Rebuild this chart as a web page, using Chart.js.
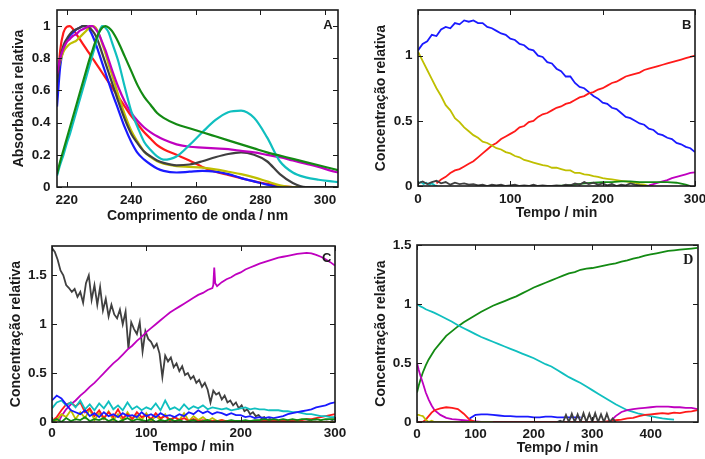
<!DOCTYPE html>
<html>
<head>
<meta charset="utf-8">
<script src="https://cdn.jsdelivr.net/npm/chart.js@4.4.0/dist/chart.umd.min.js"></script>
<style>
  body { margin: 0; background: #fff; }
  #wrap { position: relative; width: 705px; height: 459px; overflow: hidden; background: #fff; }
  canvas { position: absolute; }
</style>
</head>
<body>
<div id="wrap">
  <canvas id="chartA" width="350" height="225" style="left:0;top:0"></canvas>
  <canvas id="chartB" width="355" height="225" style="left:350px;top:0"></canvas>
  <canvas id="chartC" width="350" height="234" style="left:0;top:225px"></canvas>
  <canvas id="chartD" width="355" height="234" style="left:350px;top:225px"></canvas>
</div>
<script>
// ---- Panel A: normalised spectra ----
const aWave = [217,218,219,220,221,222,223,224,225,226,227,228,229,230,231,232,233,234,
  236,238,240,242,244,246,248,250,254,258,262,266,270,274,278,282,286,290,294,298,302,304];
const aRed = [0.6,0.85,0.96,0.995,1.0,0.98,0.95,0.92,0.89,0.86,0.83,0.8,0.77,0.74,0.71,0.68,0.65,0.62,
  0.56,0.5,0.44,0.39,0.34,0.3,0.26,0.235,0.2,0.165,0.125,0.095,0.075,0.055,0.035,0.02,0.005,0,0,0,0,0];
const aBlue = [0.5,0.75,0.86,0.91,0.94,0.96,0.98,0.99,1.0,1.0,0.98,0.94,0.89,0.83,0.77,0.71,0.65,0.59,
  0.48,0.37,0.28,0.21,0.17,0.14,0.115,0.1,0.09,0.095,0.1,0.095,0.08,0.055,0.035,0.015,0,0,0,0,0,0];
const aBlack = [0.65,0.8,0.88,0.92,0.95,0.97,0.98,0.99,1.0,1.0,0.99,0.97,0.94,0.89,0.83,0.77,0.71,0.65,
  0.53,0.42,0.33,0.27,0.22,0.19,0.165,0.15,0.135,0.14,0.16,0.185,0.205,0.215,0.2,0.16,0.08,0.025,0,0,0,0];
const aYellow = [0.7,0.78,0.84,0.87,0.89,0.9,0.91,0.93,0.95,0.97,0.99,1.0,0.99,0.95,0.89,0.83,0.76,0.7,
  0.57,0.45,0.35,0.28,0.22,0.185,0.16,0.145,0.13,0.125,0.12,0.11,0.095,0.08,0.06,0.035,0.01,0,0,0,0,0];
const aMagenta = [0.7,0.8,0.86,0.9,0.92,0.94,0.95,0.97,0.98,0.99,1.0,1.0,0.98,0.95,0.9,0.85,0.79,0.73,
  0.62,0.53,0.46,0.41,0.37,0.34,0.315,0.295,0.265,0.25,0.245,0.24,0.235,0.225,0.215,0.2,0.185,0.165,0.145,0.125,0.1,0.09];
const aGreen = [0.08,0.16,0.23,0.3,0.37,0.44,0.51,0.58,0.65,0.72,0.79,0.85,0.91,0.96,0.99,1.0,0.99,0.97,
  0.9,0.81,0.72,0.63,0.56,0.51,0.46,0.43,0.39,0.365,0.34,0.315,0.29,0.265,0.24,0.215,0.195,0.175,0.155,0.135,0.115,0.105];
const aCyan = [0.07,0.14,0.2,0.27,0.33,0.4,0.47,0.54,0.61,0.68,0.75,0.82,0.89,0.96,1.0,0.99,0.96,0.9,
  0.78,0.62,0.47,0.37,0.28,0.23,0.19,0.17,0.19,0.26,0.34,0.415,0.465,0.475,0.43,0.31,0.16,0.09,0.06,0.045,0.035,0.03];
const aXTicks = [220, 240, 260, 280, 300];
const aYTicks = [0, 0.2, 0.4, 0.6, 0.8, 1];

// ---- Panel B ----
const bTime = [0,5,10,15,20,25,30,35,40,45,50,55,60,65,70,75,80,85,90,95,100,105,110,115,120,125,130,135,140,145,
  150,155,160,165,170,175,180,185,190,195,200,205,210,215,220,225,230,235,240,245,250,255,260,265,270,275,280,285,290,295,300];
const bBlue = [1.04,1.09,1.11,1.16,1.15,1.2,1.22,1.21,1.25,1.24,1.27,1.26,1.27,1.25,1.25,1.22,1.21,1.19,1.17,1.16,
  1.13,1.12,1.09,1.08,1.05,1.04,1.0,0.99,0.95,0.94,0.9,0.88,0.84,0.84,0.79,0.76,0.75,0.72,0.69,0.67,
  0.64,0.63,0.6,0.59,0.56,0.53,0.52,0.5,0.48,0.47,0.44,0.43,0.4,0.39,0.37,0.36,0.33,0.32,0.3,0.29,0.26];
const bRed = [0.02,0.05,0.07,0.1,0.12,0.13,0.15,0.17,0.19,0.22,0.25,0.28,0.31,0.33,0.36,0.38,
  0.4,0.42,0.45,0.46,0.49,0.5,0.53,0.55,0.56,0.58,0.6,0.61,0.63,0.64,0.66,0.68,0.69,0.71,0.72,0.74,
  0.75,0.77,0.79,0.8,0.82,0.84,0.85,0.86,0.87,0.89,0.9,0.91,0.92,0.93,0.94,0.95,0.96,0.97,0.98,0.99,1.0];
const bYellow = [1.03,0.96,0.89,0.82,0.75,0.69,0.62,0.58,0.52,0.49,0.45,0.42,0.39,0.37,0.34,0.33,0.31,0.29,0.28,0.26,
  0.25,0.23,0.22,0.2,0.19,0.18,0.17,0.16,0.155,0.14,0.14,0.13,0.12,0.12,0.1,0.1,0.09,0.085,0.075,0.07,
  0.06,0.055,0.05,0.045,0.04,0.035,0.03,0.025,0.015,0.01,0,0];
const bMagenta = [0.005,0.015,0.025,0.035,0.045,0.06,0.07,0.08,0.09,0.1,0.105];
const bGreenT = [150,160,170,180,190,200,210,220,230,240,250,260,270,280,290,295];
const bGreen = [0,0.005,0.01,0.02,0.025,0.03,0.03,0.035,0.035,0.03,0.03,0.03,0.03,0.025,0.01,0];
const bBlack = [0.02,0.035,0.015,0.03,0.04,0.02,0.03,0.01,0.025,0.015,0.02,0.01,0.015,0.005,0.01,0,0.01,0.005,0.01,0,
  0.005,0.01,0,0.005,0,0.01,0,0.005,0,0,0.005,0,0.01,0.005,0.02,0.01,0.03,0.015,0.025,0.01,
  0.02,0.005,0.015,0,0.01,0.005,0.02,0.01,0.005,0,0];
const bCyanT = [0,3,6,9,12,15,18,21];
const bCyan = [0.02,0.03,0.015,0.025,0.01,0.02,0.005,0];
const bXTicks = [0, 100, 200, 300];
const bYTicks = [0, 0.5, 1];

// ---- Panel C ----
const cTime = bTime;
const cBlackT = [0,3,6,9,12,15,18,21,24,27,30,33,36,39,42,45,48,51,54,57,60,63,66,69,72,75,78,81,84,87,90,93,96,99,
  102,105,108,111,114,117,120,123,126,129,132,135,138,141,144,147,150,153,156,159,162,165,168,171,174,177,180,183,186,189,
  192,195,198,201,204,207,210,213,216,219,222,225,228,231,234,237,240,243,246,249,252,255,258,261,264,267,270,273,276,279,
  282,285,288,291,294,297,300];
const cBlack = [1.78,1.74,1.66,1.55,1.5,1.4,1.37,1.33,1.36,1.28,1.33,1.22,1.42,1.5,1.25,1.4,1.2,1.38,1.14,1.26,
  1.08,1.2,1.1,1.06,1.15,1.0,1.13,0.75,1.02,0.95,0.9,1.02,0.72,0.93,0.85,0.82,0.76,0.8,0.7,0.46,
  0.68,0.62,0.66,0.56,0.6,0.52,0.57,0.48,0.5,0.44,0.47,0.4,0.43,0.36,0.4,0.33,0.2,0.32,0.28,0.3,
  0.23,0.27,0.2,0.22,0.17,0.2,0.14,0.17,0.11,0.13,0.08,0.1,0.06,0.07,0.04,0.05,0.02,0.03,0.01,0.02,
  0.005,0.01,0,0.005,0,0.01,0.005,0,0.01,0,0.005,0.01,0,0.005,0,0.01,0,0.005,0,0.01,0];
const cMagentaT = [8,10,15,20,25,30,35,40,45,50,55,60,65,70,75,80,85,90,95,100,105,110,115,120,125,130,135,140,145,
  150,155,160,165,170,171,172,173,175,180,185,190,195,200,205,210,215,220,225,230,235,240,245,250,255,260,265,270,
  275,280,285,290,295,300];
const cMagenta = [0.02,0.06,0.13,0.18,0.22,0.27,0.31,0.36,0.4,0.45,0.5,0.55,0.6,0.64,0.69,0.74,0.78,0.83,0.87,0.92,
  0.96,1.0,1.04,1.08,1.12,1.15,1.18,1.21,1.24,1.27,1.3,1.32,1.35,1.37,1.4,1.58,1.42,1.39,1.43,1.46,
  1.48,1.51,1.53,1.56,1.58,1.6,1.62,1.635,1.65,1.665,1.68,1.69,1.7,1.71,1.72,1.725,1.73,1.725,1.71,1.69,
  1.665,1.635,1.6];
const cCyan = [0.14,0.2,0.22,0.17,0.2,0.15,0.22,0.13,0.18,0.12,0.19,0.14,0.21,0.13,0.17,0.12,0.2,0.13,0.16,0.12,
  0.15,0.13,0.19,0.12,0.22,0.13,0.15,0.12,0.18,0.13,0.16,0.14,0.17,0.13,0.15,0.14,0.13,0.14,0.12,0.13,
  0.14,0.15,0.13,0.14,0.13,0.13,0.12,0.12,0.12,0.11,0.11,0.1,0.1,0.09,0.08,0.08,0.07,0.06,0.06,0.05,0.05];
const cBlue = [0.22,0.27,0.24,0.18,0.12,0.1,0.08,0.12,0.06,0.09,0.05,0.1,0.06,0.08,0.05,0.09,0.06,0.07,0.05,0.1,
  0.06,0.08,0.05,0.09,0.06,0.07,0.05,0.08,0.06,0.1,0.08,0.12,0.09,0.11,0.08,0.1,0.09,0.07,0.09,0.07,
  0.07,0.05,0.06,0.04,0.05,0.04,0.05,0.04,0.05,0.06,0.08,0.09,0.1,0.11,0.12,0.13,0.15,0.16,0.17,0.19,0.2];
const cRed = [0.01,0.05,0.12,0.18,0.2,0.16,0.2,0.1,0.14,0.06,0.12,0.04,0.1,0.05,0.13,0.04,0.08,0.03,0.1,0.05,
  0.07,0.03,0.09,0.04,0.06,0.02,0.05,0.02,0.04,0.01,0.03,0.01,0.02,0.01,0.01,0.01,0.02,0.01,0.01,0.01,
  0.01,0.01,0.01,0.01,0.01,0.01,0.01,0.01,0.01,0.01,0.01,0.01,0.02,0.02,0.03,0.03,0.04,0.05,0.06,0.07,0.08];
const cYellow = [0,0.02,0.08,0.05,0.12,0.03,0.1,0.04,0.13,0.02,0.09,0.03,0.11,0.02,0.08,0.01,0.1,0.03,0.07,0.02,
  0.09,0.01,0.06,0.02,0.08,0.01,0.05,0.02,0.09,0.01,0.06,0.02,0.05,0.01,0.04,0.01,0.02,0,0,0,
  0,0,0,0,0,0,0,0,0,0,0,0,0,0,0,0,0,0,0,0,0];
const cGreen = [0.01,0.03,0,0.04,0.01,0.03,0.02,0.05,0.01,0.03,0.02,0.04,0.01,0.03,0,0.02,0.04,0.01,0.03,0.02,
  0.01,0.03,0,0.02,0.01,0.03,0.01,0.02,0,0.01,0.02,0,0.01,0.02,0,0.01,0,0.01,0.02,0.01,
  0.01,0.02,0.01,0.02,0.02,0.03,0.02,0.03,0.02,0.03,0.02,0.03,0.02,0.03,0.03,0.02,0.03,0.02,0.03,0.03,0.03];
const cXTicks = [0, 100, 200, 300];
const cYTicks = [0, 0.5, 1, 1.5];

// ---- Panel D ----
const dTime = [0,3,6,10,15,20,25,30,40,50,60,70,80,90,100,110,120,130,140,150,160,170,180,190,200,
  210,220,230,240,250,260,270,280,290,300,310,320,330,340,350,360,370,380,390,400,410,420,430,440,450,460,470,480];
const dGreen = [0.25,0.31,0.36,0.42,0.48,0.53,0.57,0.61,0.67,0.73,0.77,0.81,0.845,0.875,0.905,0.935,0.96,0.985,
  1.005,1.025,1.045,1.065,1.09,1.115,1.14,1.16,1.18,1.2,1.22,1.24,1.26,1.27,1.29,1.3,1.305,1.315,1.325,1.335,
  1.345,1.36,1.37,1.385,1.395,1.41,1.42,1.43,1.44,1.45,1.455,1.46,1.465,1.47,1.475];
const dCyan = [1.0,0.99,0.98,0.97,0.955,0.945,0.935,0.925,0.9,0.875,0.85,0.82,0.795,0.77,0.745,0.72,0.7,0.68,
  0.66,0.64,0.62,0.6,0.58,0.56,0.54,0.515,0.49,0.47,0.44,0.41,0.38,0.355,0.33,0.3,0.27,0.24,0.21,0.18,
  0.15,0.125,0.1,0.085,0.07,0.06,0.05,0.04,0.03,0.025,0.02];
const dMagenta = [0.5,0.44,0.39,0.33,0.25,0.19,0.14,0.1,0.06,0.035,0.025,0.02,0.015,0.01,0.005,0,0,0,
  0,0,0,0,0,0,0,0,0,0,0,0,0,0,0,0,0,0,0,0,
  0.05,0.085,0.1,0.11,0.115,0.12,0.125,0.13,0.13,0.13,0.125,0.125,0.12,0.12,0.11];
const dRed = [0,0,0,0,0.02,0.05,0.08,0.1,0.115,0.125,0.12,0.11,0.07,0.02,0,0,0,0,
  0,0,0,0,0,0,0,0,0,0,0,0,0,0,0,0,0,0,0,0.01,
  0.015,0.02,0.03,0.035,0.05,0.06,0.065,0.07,0.075,0.07,0.08,0.075,0.085,0.09,0.1];
const dBlue = [0.03,0.06,0.065,0.065,0.06,0.055,0.05,0.05,0.045,0.045,0.045,0.04,0.04,0.045,0.045,0.04,0.04,0.04,0.04,0.04];
const dYellow = [0.06,0.06,0.055,0.05,0.02,0,0.01,0,0,0,0,0,0,0,0,0,0,0];
const dBlackT = [240,245,250,255,260,265,270,275,280,285,290,295,300,305,310,315,320,325,330,335,340];
const dBlack = [0,0.01,0,0.06,0,0.07,0,0.065,0,0.075,0,0.07,0,0.075,0,0.065,0,0.07,0,0.03,0];
const dXTicks = [0, 100, 200, 300, 400];
const dYTicks = [0, 0.5, 1, 1.5];

// matlab-ish line colours
const COL = {
  blue: '#1a1aff', red: '#ff1a1a', yellow: '#bfbf00', magenta: '#bf00bf',
  green: '#138a13', cyan: '#10bfbf', black: '#404040'
};
const SANS = "'Liberation Sans', Arial, sans-serif";
const INK = '#1a1a1a';

function pts(xs, ys) {
  return ys.map((y, i) => ({ x: xs[i], y: y }));
}

// frame + inward ticks on all four sides, plus the panel letter
const frameTicks = {
  id: 'frameTicks',
  afterDatasetsDraw(chart, args, opts) {
    const { ctx, chartArea: a, scales: { x, y } } = chart;
    const len = 5;
    ctx.save();
    ctx.strokeStyle = INK;
    ctx.lineWidth = 1;
    ctx.beginPath();
    x.ticks.forEach(t => {
      const px = Math.round(x.getPixelForValue(t.value)) + 0.5;
      ctx.moveTo(px, a.bottom); ctx.lineTo(px, a.bottom - len);
      ctx.moveTo(px, a.top); ctx.lineTo(px, a.top + len);
    });
    y.ticks.forEach(t => {
      const py = Math.round(y.getPixelForValue(t.value)) + 0.5;
      ctx.moveTo(a.left, py); ctx.lineTo(a.left + len, py);
      ctx.moveTo(a.right, py); ctx.lineTo(a.right - len, py);
    });
    ctx.stroke();
    ctx.lineWidth = 1.6;
    ctx.strokeRect(a.left, a.top, a.right - a.left, a.bottom - a.top);
    if (opts.letter) {
      ctx.fillStyle = INK;
      ctx.font = opts.font;
      ctx.textAlign = 'center';
      ctx.textBaseline = 'middle';
      ctx.fillText(opts.letter, opts.lx, opts.ly);
    }
    ctx.restore();
  }
};

function makeChart(id, p) {
  const canvas = document.getElementById(id);
  const W = canvas.width, H = canvas.height;
  const tickFont = { family: SANS, size: 13.5, weight: 'bold' };
  const titleFont = { family: SANS, size: 14, weight: 'bold' };
  return new Chart(canvas, {
    type: 'line',
    data: {
      datasets: p.series.map(s => ({
        data: s.data,
        borderColor: s.color,
        borderWidth: p.lineWidth,
        pointRadius: 0,
        fill: false,
        tension: p.smooth ? 0.4 : 0,
        cubicInterpolationMode: p.smooth ? 'monotone' : 'default'
      }))
    },
    options: {
      responsive: false,
      animation: false,
      devicePixelRatio: 1,
      events: [],
      layout: { padding: { left: 0, top: p.box.top, right: W - p.box.right, bottom: 0 } },
      plugins: {
        legend: { display: false },
        tooltip: { enabled: false },
        frameTicks: { letter: p.letter, font: p.letterFont, lx: p.letterPos[0], ly: p.letterPos[1] }
      },
      scales: {
        x: {
          type: 'linear', min: p.xMin, max: p.xMax,
          grid: { display: false, drawTicks: false },
          border: { display: false },
          afterBuildTicks: s => { s.ticks = p.xTicks.map(v => ({ value: v })); },
          afterFit: s => { s.height = H - p.box.bottom; s.paddingLeft = 0; s.paddingRight = 0; },
          ticks: { color: INK, font: tickFont, padding: p.xTickPad, maxRotation: 0, autoSkip: false, callback: v => String(v) },
          title: { display: true, text: p.xTitle, color: INK, font: titleFont, padding: { top: 0, bottom: p.xTitlePad } }
        },
        y: {
          type: 'linear', min: p.yMin, max: p.yMax,
          grid: { display: false, drawTicks: false },
          border: { display: false },
          afterBuildTicks: s => { s.ticks = p.yTicks.map(v => ({ value: v })); },
          afterFit: s => { s.width = p.box.left; s.paddingTop = 0; s.paddingBottom = 0; },
          ticks: { color: INK, font: tickFont, padding: p.yTickPad, autoSkip: false, callback: v => String(v) },
          title: { display: true, text: p.yTitle, color: INK, font: titleFont, padding: { top: p.yTitlePad, bottom: 0 } }
        }
      }
    },
    plugins: [frameTicks]
  });
}

makeChart('chartA', {
  box: { left: 57, top: 10, right: 338, bottom: 187 },
  xMin: 217, xMax: 304, yMin: 0, yMax: 1.1,
  xTicks: aXTicks, yTicks: aYTicks,
  xTitle: 'Comprimento de onda / nm', yTitle: 'Absorbância relativa',
  xTickPad: 4.9, yTickPad: 6.5, xTitlePad: 0.8, yTitlePad: 11,
  letter: 'A', letterFont: 'bold 13px ' + SANS, letterPos: [328, 25],
  lineWidth: 2.2, smooth: true,
  series: [
    { data: pts(aWave, aGreen), color: COL.green },
    { data: pts(aWave, aCyan), color: COL.cyan },
    { data: pts(aWave, aMagenta), color: COL.magenta },
    { data: pts(aWave, aBlack), color: COL.black },
    { data: pts(aWave, aYellow), color: COL.yellow },
    { data: pts(aWave, aBlue), color: COL.blue },
    { data: pts(aWave, aRed), color: COL.red }
  ]
});

makeChart('chartB', {
  box: { left: 68, top: 10, right: 345, bottom: 186 },
  xMin: 0, xMax: 300, yMin: 0, yMax: 1.35,
  xTicks: bXTicks, yTicks: bYTicks,
  xTitle: 'Tempo / min', yTitle: 'Concentração relativa',
  xTickPad: 4.9, yTickPad: 5.5, xTitlePad: 3.2, yTitlePad: 22.6,
  letter: 'B', letterFont: 'bold 13px ' + SANS, letterPos: [336.7, 25.7],
  lineWidth: 1.8, smooth: false,
  series: [
    { data: pts(bTime, bBlack), color: COL.black },
    { data: pts(bCyanT, bCyan), color: COL.cyan },
    { data: pts(bGreenT, bGreen), color: COL.green },
    { data: pts(bTime.slice(50), bMagenta), color: COL.magenta },
    { data: pts(bTime, bYellow), color: COL.yellow },
    { data: pts(bTime.slice(4), bRed), color: COL.red },
    { data: pts(bTime, bBlue), color: COL.blue }
  ]
});

makeChart('chartC', {
  box: { left: 52, top: 21, right: 335, bottom: 197 },
  xMin: 0, xMax: 300, yMin: 0, yMax: 1.8,
  xTicks: cXTicks, yTicks: cYTicks,
  xTitle: 'Tempo / min', yTitle: 'Concentração relativa',
  xTickPad: 3.5, yTickPad: 5.3, xTitlePad: 3, yTitlePad: 7.4,
  letter: 'C', letterFont: 'bold 13px ' + SANS, letterPos: [326.7, 33.3],
  lineWidth: 1.8, smooth: false,
  series: [
    { data: pts(cTime, cGreen), color: COL.green },
    { data: pts(cTime, cBlue), color: COL.blue },
    { data: pts(cTime, cCyan), color: COL.cyan },
    { data: pts(cTime, cRed), color: COL.red },
    { data: pts(cTime, cYellow), color: COL.yellow },
    { data: pts(cMagentaT, cMagenta), color: COL.magenta },
    { data: pts(cBlackT, cBlack), color: COL.black }
  ]
});

makeChart('chartD', {
  box: { left: 67, top: 20, right: 348, bottom: 197 },
  xMin: 0, xMax: 481, yMin: 0, yMax: 1.5,
  xTicks: dXTicks, yTicks: dYTicks,
  xTitle: 'Tempo / min', yTitle: 'Concentração relativa',
  xTickPad: 4.6, yTickPad: 5.5, xTitlePad: 2.6, yTitlePad: 22.4,
  letter: 'D', letterFont: "bold 14px 'Liberation Serif', 'Times New Roman', serif", letterPos: [338.3, 35],
  lineWidth: 1.8, smooth: false,
  series: [
    { data: pts(dTime, dYellow), color: COL.yellow },
    { data: pts(dBlackT, dBlack), color: COL.black },
    { data: pts(dTime.slice(13), dBlue), color: COL.blue },
    { data: pts(dTime, dRed), color: COL.red },
    { data: pts(dTime, dMagenta), color: COL.magenta },
    { data: pts(dTime, dCyan), color: COL.cyan },
    { data: pts(dTime, dGreen), color: COL.green }
  ]
});
</script>
</body>
</html>
